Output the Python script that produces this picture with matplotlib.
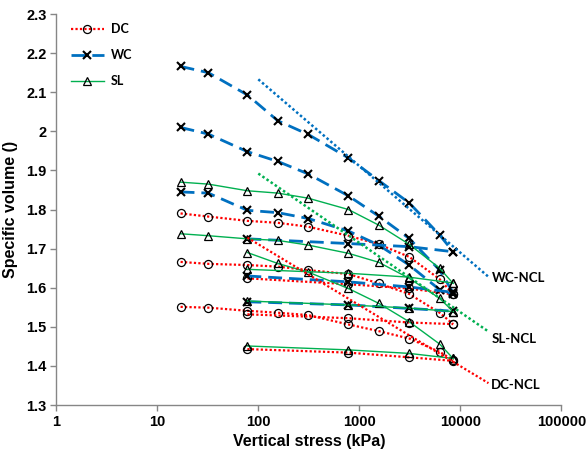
import matplotlib
matplotlib.use("Agg")
import matplotlib.pyplot as plt
from matplotlib.ticker import FixedLocator, FuncFormatter, NullLocator

# load steps (kPa)
stress_full = [17, 32, 78, 156, 312, 780, 1560, 3120, 6240, 8500]
stress_from78 = [78, 156, 312, 780, 1560, 3120, 6240, 8500]
stress_short = [78, 780, 3120, 8500]

# DC - specific volume
dc_1 = [1.790, 1.782, 1.771, 1.766, 1.756, 1.733, 1.711, 1.679, 1.622, 1.583]
dc_2 = [1.666, 1.661, 1.658, 1.654, 1.645, 1.635, 1.611, 1.584, 1.536, 1.507]
dc_3 = [1.551, 1.549, 1.541, 1.536, 1.530, 1.506, 1.489, 1.470, 1.436, 1.415]
dc_4 = [1.624, 1.609, 1.598, 1.583]
dc_5 = [1.532, 1.522, 1.511, 1.507]
dc_6 = [1.443, 1.434, 1.422, 1.413]

# WC
wc_1 = [2.166, 2.150, 2.093, 2.027, 1.992, 1.932, 1.874, 1.817, 1.735, 1.692]
wc_2 = [2.010, 1.993, 1.948, 1.923, 1.891, 1.835, 1.783, 1.726, 1.645, 1.587]
wc_3 = [1.845, 1.842, 1.798, 1.792, 1.777, 1.745, 1.709, 1.658, 1.595, 1.583]
wc_4 = [1.725, 1.713, 1.705, 1.692]
wc_5 = [1.630, 1.615, 1.602, 1.588]
wc_6 = [1.564, 1.556, 1.547, 1.540]

# SL
sl_1 = [1.870, 1.865, 1.848, 1.842, 1.829, 1.800, 1.760, 1.711, 1.650, 1.611]
sl_2 = [1.738, 1.733, 1.725, 1.721, 1.709, 1.688, 1.665, 1.624, 1.573, 1.539]
sl_3 = [1.690, 1.662, 1.640, 1.598, 1.560, 1.513, 1.456, 1.419]
sl_4 = [1.647, 1.637, 1.627, 1.612]
sl_5 = [1.566, 1.556, 1.548, 1.539]
sl_6 = [1.451, 1.441, 1.432, 1.419]

# normal compression lines
ncl_stress = [100, 19000]
dc_ncl_stress = [78, 19000]
wc_ncl = [2.133, 1.628]
sl_ncl = [1.892, 1.488]
dc_ncl = [1.728, 1.356]

RED = "#FF0000"
BLUE = "#0070C0"
GREEN = "#00B050"
LABEL_FONT = ["Lato", "DejaVu Sans"]

dc_style = dict(color=RED, lw=1.6, ls=(0, (1, 1)), marker="o", ms=5.8,
                mfc="none", mec="black", mew=0.9)
wc_style = dict(color=BLUE, lw=2.0, ls=(0, (5, 2.5)), marker="x", ms=5.8,
                mec="black", mew=1.5)
sl_style = dict(color=GREEN, lw=1.0, ls="-", marker="^", ms=6.0,
                mfc="none", mec="black", mew=0.9)

fig = plt.figure(figsize=(5.87, 4.54), dpi=100)
ax = fig.add_axes([0.0959, 0.1079, 0.8603, 0.8612])

dc_sets = [(stress_full, dc_1), (stress_full, dc_2), (stress_full, dc_3),
           (stress_short, dc_4), (stress_short, dc_5), (stress_short, dc_6)]
wc_sets = [(stress_full, wc_1), (stress_full, wc_2), (stress_full, wc_3),
           (stress_short, wc_4), (stress_short, wc_5), (stress_short, wc_6)]
sl_sets = [(stress_full, sl_1), (stress_full, sl_2), (stress_from78, sl_3),
           (stress_short, sl_4), (stress_short, sl_5), (stress_short, sl_6)]

for i, (x, y) in enumerate(dc_sets):
    ax.plot(x, y, label="DC" if i == 0 else None, **dc_style)
for i, (x, y) in enumerate(wc_sets):
    ax.plot(x, y, label="WC" if i == 0 else None, **wc_style)
for i, (x, y) in enumerate(sl_sets):
    ax.plot(x, y, label="SL" if i == 0 else None, **sl_style)

ax.plot(ncl_stress, wc_ncl, color=BLUE, lw=1.8, ls=(0, (1, 1)))
ax.plot(ncl_stress, sl_ncl, color=GREEN, lw=1.8, ls=(0, (1, 1)))
ax.plot(dc_ncl_stress, dc_ncl, color=RED, lw=1.6, ls=(0, (1, 1)))

ax.text(20500, 1.625, "WC-NCL", family=LABEL_FONT, weight="bold",
        fontsize=9.5, va="center", ha="left")
ax.text(20500, 1.469, "SL-NCL", family=LABEL_FONT, weight="bold",
        fontsize=9.5, va="center", ha="left")
ax.text(20000, 1.351, "DC-NCL", family=LABEL_FONT, weight="bold",
        fontsize=9.5, va="center", ha="left")

ax.set_xscale("log")
ax.set_xlim(1, 100000)
ax.set_ylim(1.3, 2.3)
ax.xaxis.set_major_locator(FixedLocator([1, 10, 100, 1000, 10000, 100000]))
ax.xaxis.set_minor_locator(NullLocator())
ax.xaxis.set_major_formatter(FuncFormatter(lambda v, p: f"{v:.0f}"))
ax.yaxis.set_major_locator(FixedLocator([1.3 + 0.1 * k for k in range(11)]))
ax.yaxis.set_major_formatter(FuncFormatter(lambda v, p: f"{v:g}"))

for side in ["top", "right"]:
    ax.spines[side].set_visible(False)
for side in ["left", "bottom"]:
    ax.spines[side].set_color("#868686")
    ax.spines[side].set_linewidth(1.0)
ax.tick_params(axis="both", direction="out", length=4, width=1.0,
               color="#868686", pad=3)
for lbl in ax.get_xticklabels() + ax.get_yticklabels():
    lbl.set_family("Liberation Sans")
    lbl.set_weight("bold")
    lbl.set_fontsize(10.5)

ax.set_xlabel("Vertical stress (kPa)", family="Liberation Sans",
              weight="bold", fontsize=11.5, labelpad=4)
ax.set_ylabel("Specific volume ()", family="Liberation Sans",
              weight="bold", fontsize=11.5, labelpad=6)

ax.legend(loc="upper left", bbox_to_anchor=(0.117, 0.955),
          bbox_transform=fig.transFigure, frameon=False,
          prop=dict(family=LABEL_FONT, weight="bold", size=9),
          handlelength=2.6, handletextpad=0.6, labelspacing=1.12,
          borderpad=0.2, borderaxespad=0)

fig.savefig("out.png", dpi=100)
